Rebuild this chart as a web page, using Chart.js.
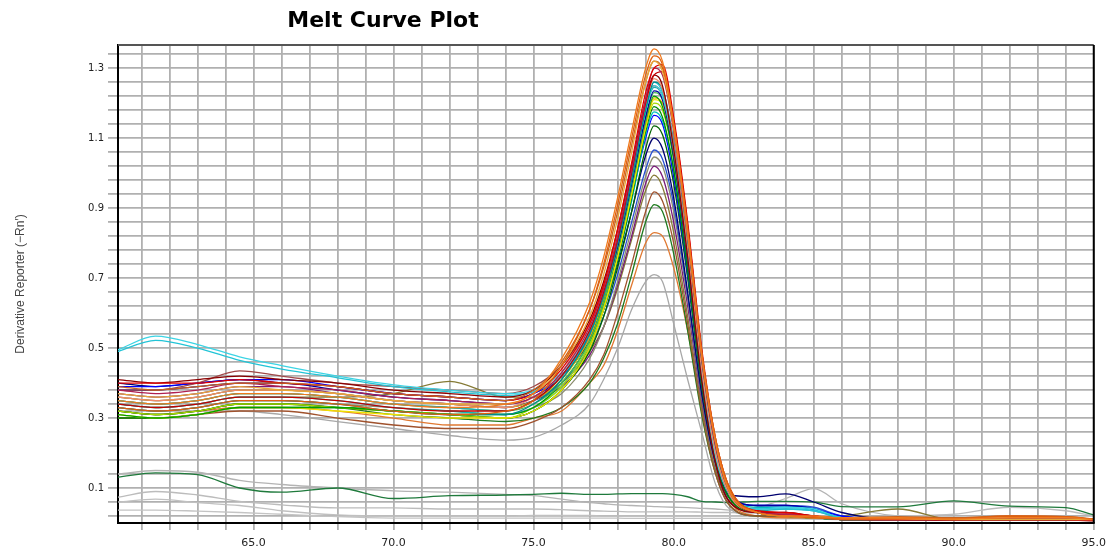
<!DOCTYPE html>
<html>
<head>
<meta charset="utf-8">
<script src="https://cdn.jsdelivr.net/npm/chart.js@4.4.1/dist/chart.umd.min.js"></script>
<style>
  html, body { margin: 0; padding: 0; background: #fff; }
  #wrap { position: relative; width: 1113px; height: 550px; }
</style>
</head>
<body>
<div id="wrap"><canvas id="chart"></canvas></div>
<script>
// temperatures (deg C) at which the curves are sampled
const TEMPS = [60.16, 61.5, 63, 64.5, 66, 68, 70, 72, 74, 75,
  76, 77, 77.5, 78, 78.5, 79, 79.3, 79.6, 80, 80.5, 81, 81.5, 82,
  83, 84, 85, 86, 88, 90, 92, 94, 95];

const X_GRID = [61, 62, 63, 64, 65, 66, 67, 68, 69, 70, 71, 72, 73, 74, 75, 76, 77, 78,
  79, 80, 81, 82, 83, 84, 85, 86, 87, 88, 89, 90, 91, 92, 93, 94, 95];
const X_LABELS = [65, 70, 75, 80, 85, 90, 95];
const Y_GRID = [0.02, 0.06, 0.10, 0.14, 0.18, 0.22, 0.26, 0.30, 0.34, 0.38, 0.42, 0.46,
  0.50, 0.54, 0.58, 0.62, 0.66, 0.70, 0.74, 0.78, 0.82, 0.86, 0.90, 0.94, 0.98, 1.02,
  1.06, 1.10, 1.14, 1.18, 1.22, 1.26, 1.30, 1.34];
const Y_LABELS = [0.1, 0.3, 0.5, 0.7, 0.9, 1.1, 1.3];

// derivative reporter per well
const orange1 = [0.35,0.34,0.35,0.37,0.37,0.36,0.34,0.33,0.34,0.37, 0.47,0.63,0.76,0.93,1.12,1.30,1.355,1.32,1.14,0.83,0.48,0.23,0.09, 0.03,0.02,0.02,0.015,0.015,0.012,0.015,0.015,0.01];
const orange2 = [0.33,0.32,0.33,0.35,0.35,0.34,0.32,0.31,0.32,0.35, 0.45,0.61,0.74,0.91,1.10,1.28,1.335,1.31,1.14,0.84,0.49,0.24,0.10, 0.03,0.02,0.015,0.012,0.015,0.012,0.02,0.018,0.012];
const tan = [0.37,0.36,0.37,0.39,0.38,0.37,0.35,0.34,0.34,0.37, 0.45,0.59,0.71,0.87,1.06,1.26,1.32,1.29,1.13,0.83,0.48,0.23,0.09, 0.03,0.02,0.015,0.012,0.012,0.01,0.01,0.01,0.01];
const rust = [0.39,0.38,0.39,0.40,0.40,0.39,0.37,0.36,0.35,0.38, 0.46,0.61,0.73,0.89,1.08,1.26,1.32,1.30,1.14,0.84,0.49,0.24,0.10, 0.03,0.02,0.015,0.015,0.018,0.015,0.02,0.018,0.01];
const red1 = [0.40,0.40,0.40,0.41,0.40,0.39,0.37,0.36,0.35,0.37, 0.44,0.57,0.68,0.84,1.03,1.23,1.30,1.31,1.16,0.86,0.50,0.24,0.10, 0.035,0.03,0.02,0.012,0.01,0.01,0.01,0.01,0.008];
const magenta = [0.38,0.37,0.38,0.40,0.39,0.38,0.36,0.35,0.34,0.36, 0.43,0.56,0.67,0.82,1.01,1.21,1.30,1.28,1.12,0.82,0.47,0.22,0.09, 0.03,0.025,0.02,0.01,0.01,0.01,0.01,0.01,0.008];
const red2 = [0.34,0.33,0.34,0.36,0.36,0.35,0.33,0.32,0.32,0.35, 0.42,0.55,0.66,0.81,1.00,1.20,1.28,1.29,1.15,0.85,0.49,0.23,0.09, 0.03,0.025,0.02,0.012,0.01,0.01,0.01,0.01,0.008];
const darkred = [0.41,0.40,0.41,0.42,0.41,0.40,0.38,0.37,0.36,0.38, 0.45,0.58,0.69,0.84,1.02,1.21,1.28,1.25,1.07,0.76,0.41,0.17,0.06, 0.03,0.03,0.02,0.01,0.01,0.008,0.008,0.008,0.006];
const salmon = [0.36,0.35,0.36,0.38,0.38,0.37,0.35,0.34,0.33,0.36, 0.43,0.57,0.68,0.83,1.01,1.20,1.27,1.24,1.08,0.78,0.44,0.20,0.08, 0.03,0.02,0.015,0.012,0.01,0.01,0.01,0.01,0.01];
const teal = [0.33,0.32,0.33,0.35,0.35,0.34,0.32,0.31,0.31,0.34, 0.41,0.54,0.65,0.80,0.98,1.18,1.26,1.24,1.09,0.79,0.45,0.21,0.08, 0.03,0.02,0.015,0.01,0.01,0.01,0.01,0.01,0.008];
const cyanB = [0.49,0.522,0.50,0.465,0.44,0.415,0.39,0.375,0.365,0.375, 0.42,0.54,0.65,0.80,0.98,1.18,1.26,1.23,1.08,0.78,0.44,0.20,0.08, 0.04,0.04,0.035,0.015,0.01,0.01,0.01,0.01,0.008];
const cyanA = [0.495,0.534,0.51,0.475,0.45,0.42,0.395,0.38,0.37,0.38, 0.43,0.55,0.66,0.81,0.99,1.18,1.25,1.22,1.07,0.77,0.43,0.19,0.08, 0.04,0.045,0.04,0.015,0.01,0.01,0.01,0.01,0.008];
const brownHi = [0.38,0.38,0.40,0.435,0.42,0.40,0.39,0.38,0.37,0.39, 0.45,0.57,0.68,0.83,1.01,1.19,1.25,1.22,1.06,0.76,0.42,0.19,0.08, 0.03,0.02,0.015,0.01,0.01,0.01,0.01,0.01,0.008];
const turq = [0.35,0.34,0.35,0.37,0.37,0.36,0.34,0.33,0.32,0.35, 0.42,0.55,0.66,0.81,0.99,1.18,1.245,1.22,1.07,0.78,0.44,0.20,0.08, 0.035,0.04,0.035,0.015,0.01,0.01,0.01,0.01,0.008];
const darkblue = [0.38,0.38,0.39,0.40,0.40,0.38,0.36,0.35,0.34,0.36, 0.42,0.54,0.65,0.79,0.97,1.16,1.235,1.21,1.05,0.75,0.42,0.19,0.08, 0.05,0.05,0.04,0.015,0.01,0.01,0.01,0.01,0.008];
const ltgreen = [0.35,0.34,0.35,0.37,0.37,0.36,0.34,0.33,0.32,0.34, 0.40,0.52,0.63,0.78,0.96,1.15,1.23,1.21,1.06,0.77,0.44,0.20,0.08, 0.03,0.02,0.015,0.01,0.01,0.01,0.01,0.01,0.008];
const green1 = [0.31,0.30,0.31,0.33,0.33,0.33,0.32,0.31,0.31,0.33, 0.40,0.52,0.63,0.78,0.96,1.15,1.22,1.19,1.04,0.75,0.42,0.19,0.08, 0.03,0.02,0.015,0.012,0.01,0.01,0.008,0.008,0.008];
const gold = [0.36,0.35,0.36,0.38,0.38,0.37,0.35,0.34,0.33,0.35, 0.41,0.53,0.64,0.78,0.96,1.14,1.215,1.20,1.06,0.78,0.45,0.21,0.09, 0.03,0.02,0.015,0.012,0.01,0.01,0.01,0.01,0.008];
const yellow = [0.31,0.30,0.31,0.33,0.33,0.32,0.31,0.30,0.30,0.32, 0.38,0.50,0.61,0.76,0.94,1.13,1.21,1.20,1.07,0.79,0.46,0.22,0.09, 0.03,0.02,0.015,0.012,0.01,0.01,0.01,0.01,0.008];
const ygreen = [0.32,0.31,0.32,0.34,0.34,0.33,0.32,0.31,0.30,0.33, 0.39,0.51,0.62,0.76,0.94,1.13,1.20,1.18,1.04,0.76,0.43,0.20,0.08, 0.03,0.02,0.015,0.01,0.01,0.01,0.01,0.01,0.008];
const green2 = [0.30,0.30,0.31,0.33,0.33,0.33,0.32,0.31,0.30,0.32, 0.38,0.50,0.61,0.75,0.93,1.12,1.19,1.16,1.01,0.72,0.40,0.18,0.07, 0.03,0.02,0.015,0.01,0.01,0.01,0.01,0.01,0.01];
const cyanC = [0.34,0.33,0.34,0.36,0.36,0.35,0.33,0.32,0.31,0.33, 0.39,0.51,0.61,0.75,0.92,1.11,1.175,1.15,1.01,0.73,0.41,0.19,0.08, 0.045,0.045,0.04,0.015,0.01,0.01,0.01,0.01,0.008];
const blue1 = [0.39,0.39,0.40,0.41,0.41,0.39,0.37,0.36,0.35,0.37, 0.42,0.53,0.63,0.77,0.93,1.10,1.165,1.14,0.99,0.71,0.40,0.18,0.08, 0.05,0.05,0.04,0.02,0.01,0.01,0.01,0.01,0.008];
const dkgreen1 = [0.32,0.31,0.32,0.34,0.34,0.33,0.32,0.31,0.30,0.32, 0.38,0.49,0.59,0.73,0.89,1.07,1.135,1.11,0.97,0.70,0.39,0.18,0.07, 0.03,0.02,0.015,0.01,0.01,0.01,0.01,0.01,0.008];
const navy = [0.40,0.39,0.40,0.41,0.40,0.39,0.37,0.36,0.35,0.37, 0.42,0.52,0.61,0.74,0.89,1.05,1.10,1.07,0.93,0.66,0.37,0.17,0.08, 0.075,0.083,0.06,0.03,0.01,0.01,0.01,0.01,0.008];
const blue2 = [0.36,0.35,0.36,0.38,0.38,0.37,0.35,0.34,0.33,0.35, 0.40,0.50,0.59,0.71,0.86,1.01,1.066,1.04,0.91,0.65,0.37,0.17,0.07, 0.05,0.05,0.045,0.02,0.01,0.01,0.01,0.01,0.008];
const greyolive = [0.33,0.32,0.33,0.35,0.35,0.34,0.33,0.32,0.31,0.33, 0.37,0.47,0.56,0.69,0.84,0.99,1.046,1.02,0.89,0.64,0.36,0.16,0.07, 0.03,0.02,0.015,0.01,0.01,0.01,0.01,0.01,0.008];
const purple = [0.37,0.36,0.37,0.39,0.39,0.37,0.35,0.34,0.33,0.35, 0.39,0.48,0.56,0.68,0.82,0.97,1.02,0.99,0.86,0.62,0.35,0.16,0.06, 0.03,0.02,0.015,0.01,0.01,0.01,0.01,0.01,0.008];
const olive = [0.34,0.33,0.34,0.36,0.36,0.36,0.37,0.405,0.36,0.36, 0.40,0.49,0.56,0.67,0.81,0.95,0.994,0.96,0.83,0.59,0.33,0.15,0.06, 0.03,0.02,0.015,0.02,0.04,0.01,0.01,0.01,0.008];
const brown = [0.30,0.30,0.31,0.32,0.32,0.30,0.28,0.27,0.27,0.29, 0.33,0.41,0.48,0.60,0.74,0.89,0.946,0.92,0.80,0.57,0.32,0.14,0.05, 0.02,0.02,0.015,0.01,0.01,0.01,0.01,0.01,0.008];
const dkgreen2 = [0.32,0.31,0.32,0.34,0.34,0.33,0.31,0.30,0.29,0.30, 0.33,0.40,0.47,0.57,0.71,0.86,0.91,0.89,0.77,0.55,0.31,0.14,0.05, 0.02,0.02,0.015,0.01,0.01,0.01,0.01,0.01,0.01];
const orange3 = [0.32,0.31,0.32,0.33,0.33,0.32,0.30,0.28,0.28,0.30, 0.32,0.40,0.45,0.55,0.68,0.80,0.83,0.82,0.73,0.55,0.33,0.15,0.06, 0.02,0.015,0.015,0.015,0.015,0.015,0.018,0.018,0.01];
const greyPeak = [0.32,0.32,0.32,0.32,0.31,0.29,0.27,0.25,0.237,0.245, 0.28,0.34,0.41,0.50,0.61,0.69,0.71,0.69,0.57,0.41,0.26,0.11,0.04, 0.02,0.015,0.012,0.01,0.01,0.01,0.01,0.01,0.008];
// low (no-template) wells
const greenLow = [0.131,0.143,0.138,0.10,0.088,0.10,0.07,0.078,0.08,0.082, 0.085,0.082,0.082,0.083,0.084,0.084,0.084,0.084,0.082,0.075,0.062,0.06,0.058, 0.062,0.062,0.06,0.047,0.046,0.063,0.048,0.044,0.023];
const greyA = [0.14,0.15,0.145,0.122,0.11,0.10,0.092,0.088,0.082,0.078, 0.068,0.058,0.055,0.052,0.05,0.048,0.047,0.046,0.045,0.044,0.042,0.04,0.037, 0.045,0.07,0.098,0.055,0.02,0.015,0.015,0.015,0.012];
const greyB = [0.074,0.09,0.08,0.062,0.052,0.043,0.043,0.04,0.04,0.04, 0.038,0.035,0.034,0.033,0.032,0.032,0.032,0.032,0.032,0.032,0.031,0.03,0.03, 0.028,0.025,0.02,0.015,0.02,0.025,0.045,0.035,0.02];
const greyC = [0.06,0.068,0.058,0.05,0.035,0.023,0.02,0.02,0.02,0.022, 0.022,0.022,0.02,0.02,0.02,0.02,0.02,0.02,0.02,0.02,0.02,0.02,0.02, 0.02,0.02,0.018,0.015,0.012,0.01,0.012,0.012,0.01];
const greyD = [0.037,0.037,0.034,0.03,0.025,0.018,0.014,0.014,0.014,0.014, 0.014,0.014,0.014,0.014,0.013,0.013,0.013,0.013,0.013,0.013,0.013,0.013,0.013, 0.013,0.012,0.012,0.012,0.01,0.01,0.01,0.01,0.01];

const WELLS = [
  ['orange1', orange1, '#f07a1e'], ['orange2', orange2, '#e0600f'], ['tan', tan, '#e8a838'],
  ['rust', rust, '#c8641e'], ['red1', red1, '#e00000'], ['magenta', magenta, '#b02050'],
  ['red2', red2, '#c40000'], ['darkred', darkred, '#8b0000'], ['salmon', salmon, '#f08a6a'],
  ['teal', teal, '#008c8c'], ['cyanB', cyanB, '#22c4d6'], ['cyanA', cyanA, '#3cd4e4'],
  ['brownHi', brownHi, '#a04848'], ['turq', turq, '#1fa8b0'], ['darkblue', darkblue, '#0000a0'],
  ['ltgreen', ltgreen, '#50b850'], ['green1', green1, '#00a000'], ['gold', gold, '#d8b400'],
  ['yellow', yellow, '#f0e000'], ['ygreen', ygreen, '#a8d800'], ['green2', green2, '#008800'],
  ['cyanC', cyanC, '#00c0c0'], ['blue1', blue1, '#0000ff'], ['dkgreen1', dkgreen1, '#006400'],
  ['navy', navy, '#000070'], ['blue2', blue2, '#2850d0'], ['greyolive', greyolive, '#8c8c70'],
  ['purple', purple, '#7a1a7a'], ['olive', olive, '#857a35'], ['brown', brown, '#a0522d'],
  ['dkgreen2', dkgreen2, '#1e7a1e'], ['orange3', orange3, '#e07830'], ['greyPeak', greyPeak, '#a8a8a8'],
  ['greenLow', greenLow, '#1f7a3c'], ['greyA', greyA, '#b4b4b4'], ['greyB', greyB, '#bcbcbc'],
  ['greyC', greyC, '#c0c0c0'], ['greyD', greyD, '#c4c4c4'],
];

const near = (list, v) => list.some(l => Math.abs(l - v) < 1e-6);

const plotTitle = {
  id: 'plotTitle',
  afterDraw(chart) {
    const ctx = chart.ctx;
    ctx.save();
    ctx.font = 'bold 22px "DejaVu Sans", Verdana, sans-serif';
    ctx.fillStyle = '#000';
    ctx.textAlign = 'center';
    ctx.textBaseline = 'middle';
    ctx.fillText('Melt Curve Plot', 383, 21);
    ctx.restore();
  }
};

const plotFrame = {
  id: 'plotFrame',
  afterDatasetsDraw(chart) {
    const {ctx, chartArea: a} = chart;
    ctx.save();
    ctx.lineWidth = 2;
    ctx.strokeStyle = '#555';
    ctx.beginPath();
    ctx.moveTo(a.left, a.top);
    ctx.lineTo(a.right, a.top);
    ctx.stroke();
    ctx.strokeStyle = '#000';
    ctx.beginPath();
    ctx.moveTo(a.right, a.top);
    ctx.lineTo(a.right, a.bottom);
    ctx.stroke();
    ctx.restore();
  }
};

Chart.defaults.font.family = '"Liberation Sans", Arial, sans-serif';
Chart.defaults.color = '#222';

new Chart(document.getElementById('chart'), {
  type: 'line',
  data: {
    labels: TEMPS,
    datasets: WELLS.map(([name, values, color]) => ({
      label: name,
      data: values.map((v, i) => ({x: TEMPS[i], y: v})),
      borderColor: color,
      borderWidth: 1.3,
      pointRadius: 0,
      fill: false,
      cubicInterpolationMode: 'monotone',
    })),
  },
  options: {
    responsive: true,
    maintainAspectRatio: false,
    animation: false,
    layout: {padding: {top: 45, right: 15, bottom: 0, left: 0}},
    plugins: {legend: {display: false}, tooltip: {enabled: false}, title: {display: false}},
    scales: {
      x: {
        type: 'linear',
        min: 60.16,
        max: 95,
        afterBuildTicks: s => { s.ticks = X_GRID.map(v => ({value: v})); },
        afterFit: s => { s.height = 27; },
        grid: {color: '#b0b0b0', lineWidth: 1.8, tickLength: 7},
        border: {color: '#000', width: 2},
        ticks: {
          autoSkip: false,
          maxRotation: 0,
          padding: 7,
          font: {family: '"DejaVu Sans", Verdana, sans-serif', size: 11},
          callback: v => near(X_LABELS, v) ? v.toFixed(1) : '',
        },
      },
      y: {
        min: 0,
        max: 1.366,
        afterBuildTicks: s => { s.ticks = Y_GRID.map(v => ({value: v})); },
        afterFit: s => { s.width = 118; },
        grid: {color: '#b0b0b0', lineWidth: 1.8, tickLength: 10},
        border: {color: '#000', width: 2},
        title: {
          display: true,
          text: 'Derivative Reporter (\u2212Rn\u2032)',
          color: '#444',
          font: {size: 12},
          padding: {top: 13, bottom: 4},
        },
        ticks: {
          autoSkip: false,
          padding: 4,
          font: {family: '"DejaVu Sans", Verdana, sans-serif', size: 10},
          callback: v => near(Y_LABELS, v) ? v.toFixed(1) : '',
        },
      },
    },
  },
  plugins: [plotTitle, plotFrame],
});
</script>
</body>
</html>
